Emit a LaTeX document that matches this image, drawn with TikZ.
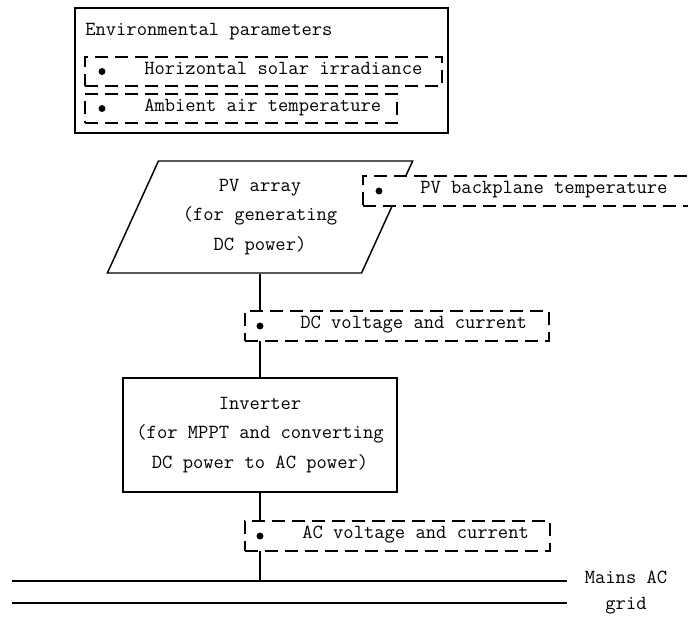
\documentclass[tikz,border=0pt]{standalone}
\usepackage{tikz}
\usetikzlibrary{shapes.geometric,positioning,calc}
\def\u{0.75pt}
\tikzset{
  solidbox/.style={draw,line width=1.1pt,inner sep=0pt},
  sensebox/.style={draw,line width=1.1pt,dash pattern=on 9.75pt off 5.25pt,fill=white,inner sep=0pt,minimum height=30*\u},
  dot/.style={circle,fill=black,inner sep=0pt,minimum size=5.2pt},
  txt/.style={inner sep=0pt,anchor=mid west},
  wire/.style={line width=1.1pt}
}
\begin{document}
\begin{tikzpicture}[x=0.75pt,y=-0.75pt,font=\fontsize{15}{22}\selectfont\ttfamily]
\useasboundingbox (0,0) rectangle (688,619);
\clip (0,0) rectangle (688,619);
% environmental parameters
\node[solidbox,minimum width=373*\u,minimum height=125*\u] (env) at (261.5,70.5) {};
\node[txt] (envtitle) at (85,33) {Environmental parameters};
\node[sensebox,minimum width=357*\u,minimum height=29*\u] (irr) at (263.5,71.5) {};
\node[dot] (irrdot) at (102,71.5) {};
\node[txt] (irrtxt) at (144,71.5) {Horizontal solar irradiance};
\node[sensebox,minimum width=312*\u,minimum height=29*\u] (amb) at (241,108.5) {};
\node[dot] (ambdot) at (102,108.5) {};
\node[txt] (ambtxt) at (144,108.5) {Ambient air temperature};
% PV array and inverter
\node[trapezium,trapezium left angle=64,trapezium right angle=116,trapezium stretches=true,
  draw,line width=1.1pt,minimum width=306*\u,minimum height=112*\u,align=center] (pv) at (260,217)
  {PV array\\(for generating\\DC power)};
\node[solidbox,minimum width=274*\u,minimum height=114*\u,align=center] (inv) at (260,435)
  {Inverter\\(for MPPT and converting\\DC power to AC power)};
% grid
\coordinate (g1w) at (12,581);
\coordinate (g1e) at (567,581);
\coordinate (g2w) at (12,603);
\coordinate (g2e) at (567,603);
\draw[wire] (g1w) -- (g1e);
\draw[wire] (g2w) -- (g2e);
\node[align=center,font=\fontsize{15}{19.5}\selectfont\ttfamily] (grid) at (626,593) {Mains AC\\grid};
\draw[wire] (inv.north) -- (inv.north |- pv.south);
\draw[wire] (inv.south) -- (inv.south |- g1w);
% measured quantities
\node[sensebox,minimum width=337*\u] (bpt) at (531.5,191) {};
\node[dot] (bptdot) at (379,191) {};
\node[txt] (bpttxt) at (420,191) {PV backplane temperature};
\node[sensebox,minimum width=304*\u] (dcm) at (397,326) {};
\node[dot] (dcmdot) at (260,326) {};
\node[txt] (dcmtxt) at (300,326) {DC voltage and current};
\node[sensebox,minimum width=305*\u] (acm) at (397.5,536) {};
\node[dot] (acmdot) at (260,536) {};
\node[txt] (acmtxt) at (302,536) {AC voltage and current};
\end{tikzpicture}
\end{document}
